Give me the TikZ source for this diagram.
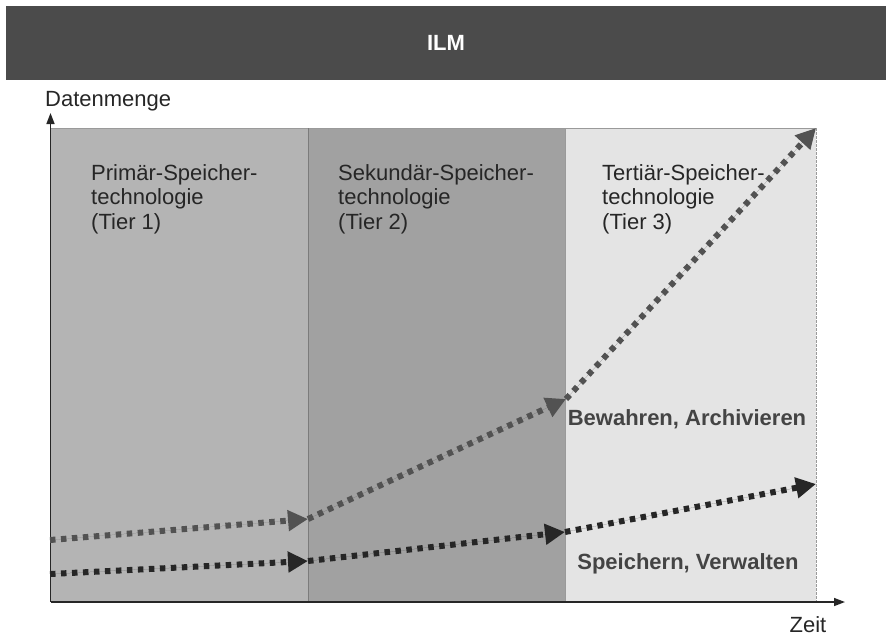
\documentclass[tikz,border=0pt]{standalone}
\usepackage{fontspec}
\setmainfont{Liberation Sans}
\usetikzlibrary{arrows.meta}

\definecolor{banner}{HTML}{4B4B4B}
\definecolor{tierone}{HTML}{B4B4B4}
\definecolor{tiertwo}{HTML}{A1A1A1}
\definecolor{tierthree}{HTML}{E4E4E4}
\definecolor{edgegray}{HTML}{9A9A9A}
\definecolor{flowgray}{HTML}{525252}
\definecolor{flowdark}{HTML}{262626}
\definecolor{labelgray}{HTML}{444444}

\tikzset{
  txt/.style={font=\fontsize{22}{24.5}\selectfont, inner sep=0pt, text=black!85},
  tierlabel/.style={txt, anchor=base west, align=left},
  boldlabel/.style={txt, font=\fontsize{22}{24.5}\selectfont\bfseries, text=labelgray},
  axisline/.style={line width=1.4pt, draw=black!85, -{Triangle[length=11pt,width=8pt]}},
  flow/.style={line width=6pt, dash pattern=on 5.5pt off 5.5pt,
    -{Triangle[length=20pt,width=20pt]}, shorten >=0pt},
  upperflow/.style={flow, draw=flowgray, fill=flowgray},
  lowerflow/.style={flow, draw=flowdark, fill=flowdark},
}

\begin{document}
\begin{tikzpicture}[x=1pt,y=-1pt]
  \useasboundingbox (0,0) rectangle (886,638);

  % title banner
  \fill[banner] (6,6) rectangle (886,80);
  \node[txt, font=\fontsize{22}{24.5}\selectfont\bfseries, text=white] (title) at (446,43) {ILM};

  % storage tiers
  \fill[tierone] (50,128) rectangle (308,602);
  \fill[tiertwo] (308,128) rectangle (565,602);
  \fill[tierthree] (565,128) rectangle (816,602);
  \draw[edgegray, line width=0.8pt] (50,128) -- (816,128);
  \draw[edgegray, line width=0.8pt, dash pattern=on 3pt off 1pt] (816,128) -- (816,602);
  \draw[edgegray!80!black, line width=0.6pt] (308,128) -- (308,602);
  \draw[edgegray, line width=0.6pt] (565,128) -- (565,602);

  % tier captions (anchored at the baseline of their last line)
  \node[tierlabel] (t1) at (91,229) {Primär-Speicher-\\technologie\\(Tier 1)};
  \node[tierlabel] (t2) at (338,229) {Sekundär-Speicher-\\technologie\\(Tier 2)};
  \node[tierlabel] (t3) at (602,229) {Tertiär-Speicher-\\technologie\\(Tier 3)};

  % axes
  \coordinate (origin) at (50.5,602);
  \coordinate (ytip) at (50.5,113);
  \coordinate (xtip) at (845,602);
  \draw[axisline] (origin) -- (ytip);
  \draw[axisline] (origin) -- (xtip);
  \node[tierlabel] (ylab) at (45,106) {Datenmenge};
  \node[txt] (xlab) at (808,625) {Zeit};

  % data growth: archiving path
  \coordinate (a0) at (50,540);
  \coordinate (a1) at (308,519);
  \coordinate (a2) at (566,399);
  \coordinate (a3) at (816,128);
  \draw[upperflow] (a0) -- (a1);
  \draw[upperflow] (a1) -- (a2);
  \draw[upperflow] (a2) -- (a3);

  % data growth: storing path
  \coordinate (b0) at (50,574);
  \coordinate (b1) at (308,561);
  \coordinate (b2) at (565,532);
  \coordinate (b3) at (816,484);
  \draw[lowerflow] (b0) -- (b1);
  \draw[lowerflow] (b1) -- (b2);
  \draw[lowerflow] (b2) -- (b3);

  \node[boldlabel] (arch) at (687,419) {Bewahren, Archivieren};
  \node[boldlabel] (store) at (688,564) {Speichern, Verwalten};
\end{tikzpicture}
\end{document}
